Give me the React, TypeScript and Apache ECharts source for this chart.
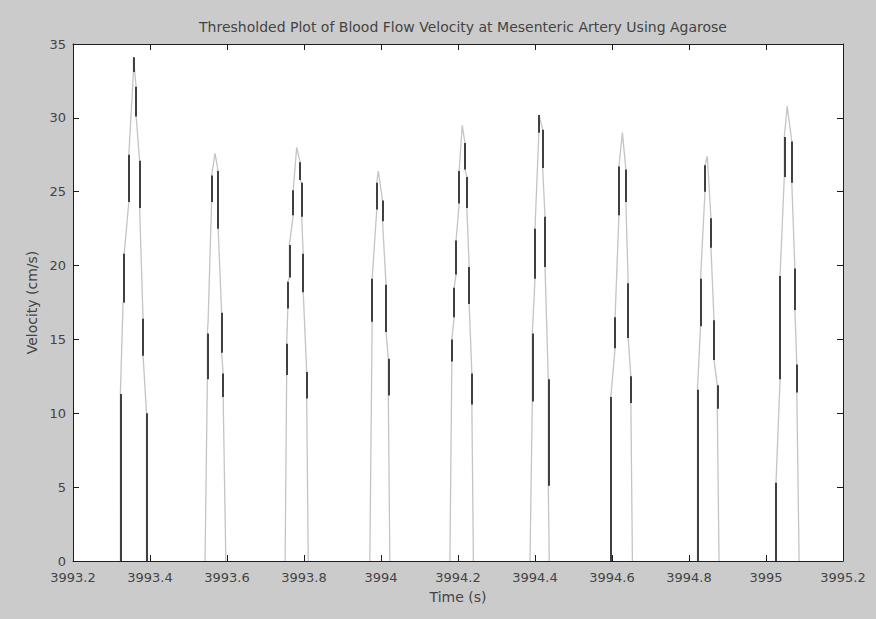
import React, { useEffect, useRef } from "react";
import * as echarts from "echarts";

// Thresholded velocity trace, one pulse per cardiac cycle: [time (s), velocity (cm/s)]
const pulse1: [number, number][] = [[3993.323,0],[3993.323,11.3],[3993.330,17.5],[3993.333,17.5],[3993.333,20.8],[3993.345,24.3],[3993.345,27.5],[3993.357,33.1],[3993.357,34.1],[3993.364,32.1],[3993.364,30.1],[3993.373,27.1],[3993.373,23.9],[3993.382,16.4],[3993.382,13.9],[3993.391,10.0],[3993.391,0]];
const pulse2: [number, number][] = [[3993.543,0],[3993.549,12.3],[3993.549,15.4],[3993.551,16.3],[3993.560,24.3],[3993.560,26.1],[3993.569,27.6],[3993.577,26.4],[3993.577,22.5],[3993.586,16.8],[3993.586,14.1],[3993.590,12.7],[3993.590,11.1],[3993.597,0]];
const pulse3: [number, number][] = [[3993.751,0],[3993.755,12.6],[3993.755,14.7],[3993.758,17.1],[3993.758,18.9],[3993.762,19.2],[3993.762,21.4],[3993.772,23.4],[3993.772,25.1],[3993.781,28.0],[3993.790,27.0],[3993.790,25.8],[3993.794,25.6],[3993.794,23.3],[3993.798,20.8],[3993.798,18.2],[3993.807,12.8],[3993.807,11.0],[3993.811,0]];
const pulse4: [number, number][] = [[3993.971,0],[3993.977,16.2],[3993.977,19.1],[3993.989,23.8],[3993.989,25.6],[3993.993,26.4],[3994.004,24.4],[3994.004,23.0],[3994.013,18.7],[3994.013,15.5],[3994.019,13.7],[3994.019,11.2],[3994.023,0]];
const pulse5: [number, number][] = [[3994.179,0],[3994.184,13.5],[3994.184,15.0],[3994.190,16.5],[3994.190,18.5],[3994.195,19.4],[3994.195,21.7],[3994.203,24.2],[3994.203,26.4],[3994.211,29.5],[3994.218,28.3],[3994.218,26.5],[3994.223,26.0],[3994.223,23.9],[3994.229,19.9],[3994.229,17.4],[3994.236,12.7],[3994.236,10.6],[3994.240,0]];
const pulse6: [number, number][] = [[3994.387,0],[3994.393,10.8],[3994.393,15.4],[3994.400,19.1],[3994.400,22.5],[3994.410,29.0],[3994.410,30.2],[3994.420,29.2],[3994.420,26.6],[3994.426,23.3],[3994.426,19.9],[3994.4345,12.3],[3994.4345,5.1],[3994.437,0]];
const pulse7: [number, number][] = [[3994.597,0],[3994.597,11.1],[3994.608,14.4],[3994.608,16.5],[3994.618,23.4],[3994.618,26.7],[3994.627,29.0],[3994.636,26.5],[3994.636,24.3],[3994.642,18.8],[3994.642,15.1],[3994.649,12.5],[3994.649,10.7],[3994.653,0]];
const pulse8: [number, number][] = [[3994.822,0],[3994.822,11.6],[3994.830,15.9],[3994.830,19.1],[3994.8415,25.0],[3994.8415,26.8],[3994.8475,27.4],[3994.857,23.2],[3994.857,21.2],[3994.865,16.3],[3994.865,13.6],[3994.8735,11.9],[3994.8735,10.3],[3994.878,0]];
const pulse9: [number, number][] = [[3995.026,0],[3995.026,5.3],[3995.0365,12.3],[3995.0365,19.3],[3995.0475,26.0],[3995.0475,28.7],[3995.055,30.8],[3995.067,28.4],[3995.067,25.6],[3995.075,19.8],[3995.075,17.0],[3995.080,13.3],[3995.080,11.4],[3995.086,0]];

const pulses = [pulse1, pulse2, pulse3, pulse4, pulse5, pulse6, pulse7, pulse8, pulse9];

const timeRange = [3993.2, 3995.2];
const timeStep = 0.2;
const velocityRange = [0, 35];
const velocityStep = 5;

const titleText = "Thresholded Plot of Blood Flow Velocity at Mesenteric Artery Using Agarose";
const xName = "Time (s)";
const yName = "Velocity (cm/s)";

const FONT = "DejaVu Sans";
const TEXT = "#444444";
const AXIS = "#1e1e1e";

export default function App() {
  const ref = useRef<HTMLDivElement>(null);

  useEffect(() => {
    if (!ref.current) return;
    const chart = echarts.init(ref.current, undefined, { renderer: "svg" });

    // Vertical runs of the trace (same time, changing value) render as solid dark strokes
    const verticalRuns: { coords: [number, number][] }[] = [];
    pulses.forEach((p) => {
      for (let i = 1; i < p.length; i++) {
        if (p[i][0] === p[i - 1][0] && p[i][1] !== p[i - 1][1]) {
          verticalRuns.push({ coords: [p[i - 1], p[i]] });
        }
      }
    });

    const tickLabel = (v: number) => String(Number(v.toFixed(1)));

    const baseX = {
      type: "value" as const,
      min: timeRange[0],
      max: timeRange[1],
      interval: timeStep,
      splitLine: { show: false },
      axisLine: { show: true, onZero: false, lineStyle: { color: AXIS, width: 1 } },
      axisTick: { show: true, inside: true, length: 6, lineStyle: { color: AXIS } },
    };
    const baseY = {
      type: "value" as const,
      min: velocityRange[0],
      max: velocityRange[1],
      interval: velocityStep,
      splitLine: { show: false },
      axisLine: { show: true, onZero: false, lineStyle: { color: AXIS, width: 1 } },
      axisTick: { show: true, inside: true, length: 6, lineStyle: { color: AXIS } },
    };

    chart.setOption({
      animation: false,
      backgroundColor: "#cbcbcb",
      title: {
        text: titleText,
        left: 458,
        top: 15,
        textAlign: "center",
        textStyle: { fontFamily: FONT, fontSize: 14, fontWeight: "normal", color: TEXT },
      },
      grid: {
        left: 73,
        right: 33,
        top: 44,
        bottom: 58,
        show: true,
        backgroundColor: "#ffffff",
        borderWidth: 0,
      },
      xAxis: [
        {
          ...baseX,
          position: "bottom",
          name: xName,
          nameLocation: "middle",
          nameGap: 29,
          nameTextStyle: { fontFamily: FONT, fontSize: 14, color: TEXT },
          axisLabel: {
            formatter: tickLabel,
            fontFamily: FONT,
            fontSize: 13,
            color: TEXT,
            margin: 10,
            showMinLabel: true,
            showMaxLabel: true,
          },
        },
        { ...baseX, position: "top", axisLabel: { show: false } },
      ],
      yAxis: [
        {
          ...baseY,
          position: "left",
          name: yName,
          nameLocation: "middle",
          nameGap: 34,
          nameTextStyle: { fontFamily: FONT, fontSize: 14, color: TEXT },
          axisLabel: { fontFamily: FONT, fontSize: 13, color: TEXT, margin: 7 },
        },
        { ...baseY, position: "right", axisLabel: { show: false } },
      ],
      series: [
        {
          type: "lines",
          coordinateSystem: "cartesian2d",
          polyline: true,
          silent: true,
          lineStyle: { color: "#c4c4c4", width: 1.3, opacity: 1 },
          data: pulses.map((p) => ({ coords: p })),
        },
        {
          type: "lines",
          coordinateSystem: "cartesian2d",
          silent: true,
          lineStyle: { color: "#404040", width: 2, opacity: 1 },
          data: verticalRuns,
        },
      ],
    });

    return () => chart.dispose();
  }, []);

  return (
    <div
      ref={ref}
      style={{ position: "fixed", left: 0, top: 0, width: 876, height: 619 }}
    />
  );
}
